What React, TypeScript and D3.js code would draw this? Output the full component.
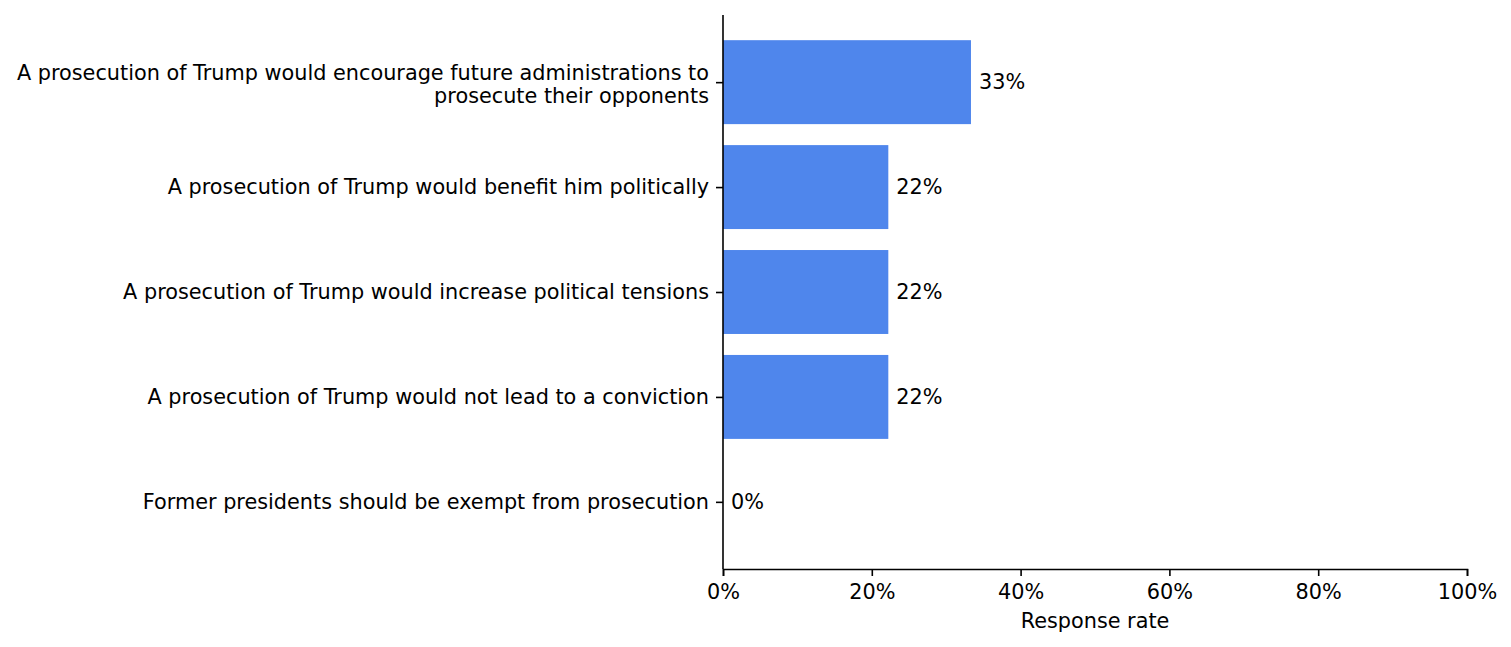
import React, { useEffect, useRef } from 'react';
import * as d3 from 'd3';

const categories = [
  ['A prosecution of Trump would encourage future administrations to', 'prosecute their opponents'],
  ['A prosecution of Trump would benefit him politically'],
  ['A prosecution of Trump would increase political tensions'],
  ['A prosecution of Trump would not lead to a conviction'],
  ['Former presidents should be exempt from prosecution'],
];
const values = [33.33, 22.22, 22.22, 22.22, 0];
const xTicks = [0, 20, 40, 60, 80, 100];

const App: React.FC = () => {
  const svgRef = useRef<SVGSVGElement>(null);

  useEffect(() => {
    if (!svgRef.current) return;
    document.body.style.margin = '0';
    d3.select(svgRef.current).selectAll('*').remove();

    const width = 1511;
    const height = 647;
    const margin = { top: 15, right: 44, bottom: 78, left: 723 };
    const fontSize = 20.8;
    const ink = '#000';

    const svg = d3.select(svgRef.current)
      .attr('font-family', '"DejaVu Sans", sans-serif')
      .attr('font-size', fontSize);

    const x = d3.scaleLinear()
      .domain([0, 100])
      .range([margin.left, width - margin.right]);

    // matplotlib-style margins around bars at 0..n-1 with height 0.8
    const n = categories.length;
    const y = d3.scaleLinear()
      .domain([-0.64, n - 1 + 0.64])
      .range([margin.top, height - margin.bottom]);
    const barH = y(0.8) - y(0);

    // bars
    svg.append('g')
      .selectAll('rect')
      .data(values)
      .join('rect')
        .attr('x', x(0))
        .attr('y', (_, i) => y(i) - barH / 2)
        .attr('width', d => x(d) - x(0))
        .attr('height', barH)
        .attr('fill', '#4f86ec');

    // value labels
    svg.append('g')
      .selectAll('text')
      .data(values)
      .join('text')
        .attr('x', d => x(d) + 8)
        .attr('y', (_, i) => y(i))
        .attr('dy', '0.35em')
        .attr('fill', ink)
        .text(d => `${Math.round(d)}%`);

    // x axis
    const xAxis = svg.append('g')
      .attr('transform', `translate(0,${height - margin.bottom})`)
      .call(d3.axisBottom(x).tickValues(xTicks).tickSize(7).tickPadding(8).tickFormat(d => `${d}%`));
    xAxis.select('.domain').attr('stroke', ink).attr('stroke-width', 1.6);
    xAxis.selectAll('.tick line').attr('stroke', ink).attr('stroke-width', 1.6);
    xAxis.selectAll('.tick text')
      .attr('fill', ink)
      .attr('font-size', fontSize)
      .attr('font-family', '"DejaVu Sans", sans-serif');

    svg.append('text')
      .attr('x', (x(0) + x(100)) / 2)
      .attr('y', height - margin.bottom + 59)
      .attr('text-anchor', 'middle')
      .attr('fill', ink)
      .text('Response rate');

    // y axis
    const yAxis = svg.append('g')
      .attr('transform', `translate(${margin.left},0)`)
      .call(d3.axisLeft(y).tickValues(d3.range(n)).tickSize(7).tickFormat(() => ''));
    yAxis.select('.domain').attr('d', `M0,${margin.top}V${height - margin.bottom}`)
      .attr('stroke', ink).attr('stroke-width', 1.6);
    yAxis.selectAll('.tick line').attr('stroke', ink).attr('stroke-width', 1.6);

    const labels = svg.append('g')
      .selectAll('text')
      .data(categories)
      .join('text')
        .attr('text-anchor', 'end')
        .attr('fill', ink)
        .attr('transform', (_, i) => `translate(${margin.left - 14},${y(i)})`);
    const lineH = 23.5;
    labels.selectAll('tspan')
      .data(d => d.map((t, j) => ({ t, j, k: d.length })))
      .join('tspan')
        .attr('x', 0)
        .attr('y', d => (d.j - (d.k - 1) / 2) * lineH + (d.k > 1 ? 2 : 0))
        .attr('dy', '0.35em')
        .text(d => d.t);
  }, []);

  return <svg ref={svgRef} width={1511} height={647} style={{ display: 'block' }} />;
};

export default App;
